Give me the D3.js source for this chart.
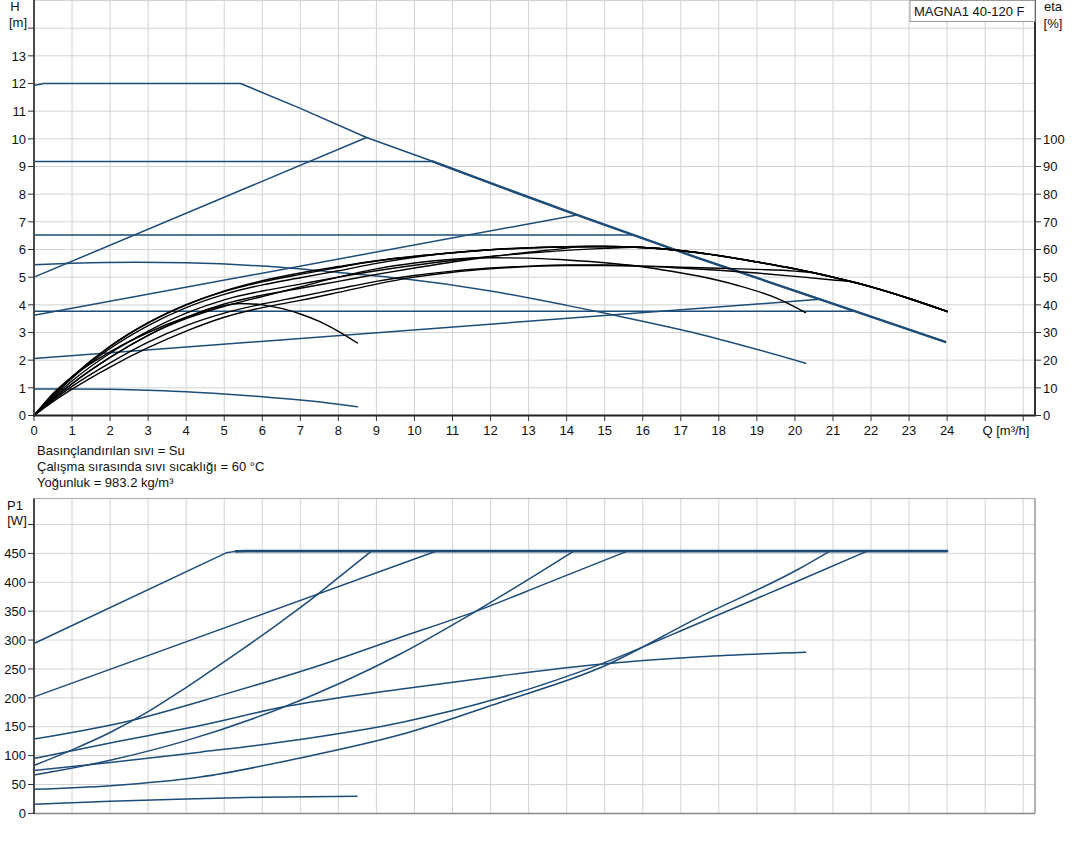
<!DOCTYPE html>
<html><head><meta charset="utf-8">
<script src="https://cdn.jsdelivr.net/npm/d3@7"></script>
<style>
html,body{margin:0;padding:0;background:#fff;}
svg{display:block;font-family:"Liberation Sans",Arial,sans-serif;}
</style></head>
<body><div id="chart"></div>
<script>
// ---------- DATA ----------
const qTicks = d3.range(0, 27);           // grid/ticks on flow axis
const qLabels = d3.range(0, 25);          // labelled flow ticks
const hTicks = d3.range(0, 15);
const hLabels = d3.range(0, 14);
const etaTicks = d3.range(0, 101, 10);
const pTicks = d3.range(0, 501, 50);
const pLabels = d3.range(0, 451, 50);
const title = "MAGNA1 40-120 F";
const notes = ["Basınçlandırılan sıvı = Su", "Çalışma sırasında sıvı sıcaklığı = 60 °C", "Yoğunluk = 983.2 kg/m³"];

// Head curves [Q m3/h, H m]
const hMax   = [[0,11.93],[0.25,12],[5.43,12],[7,11.1],[8.74,10.05],[10.49,9.18],[12.25,8.27],[14.27,7.25],[17.46,5.69],[20.66,4.2],[23.95,2.66]];
const hPPhigh= [[0,5.0],[8.74,10.05]];
const hCP92  = [[0,9.18],[10.49,9.18]];
const hPPmid = [[0,3.62],[14.27,7.25]];
const hCP65  = [[0,6.52],[15.75,6.52]];
const hCS    = [[0,5.45],[1,5.5],[2.7,5.54],[4,5.52],[6,5.4],[8,5.17],[9.62,4.96],[12,4.5],[14,3.98],[15.27,3.62],[17.5,2.94],[20.28,1.89]];
const hCP38  = [[0,3.77],[21.6,3.77]];
const hPPlow = [[0,2.06],[20.66,4.2]];
const hMin   = [[0,0.96],[1,0.96],[2,0.95],[3,0.91],[4,0.86],[5,0.78],[6,0.68],[7,0.56],[8,0.41],[8.5,0.32]];

// Efficiency curves [Q, eta %]
const etaMax   = [[0,0],[0.5,7.5],[1,14],[2,25],[3,33.5],[4,40],[5,45],[6,48.7],[7,51.5],[8,53.8],[9,55.9],[10,57.5],[11,58.8],[12,59.9],[13,60.6],[14,61],[15,61.1],[16,60.7],[17,59.6],[18,57.8],[19,55.5],[20,53],[21,50],[22,46.5],[23,42.3],[24,37.6]];
const etaPPhigh= [[0,0],[0.5,7.5],[1,14],[2,25],[3,33.5],[4,40],[5,44.8],[6,48.3],[7,51],[8,53.5],[8.74,55.4]];
const etaCP92  = [[0,0],[0.5,7],[1,13.5],[2,24.2],[3,32.5],[4,39],[5,43.8],[6,47.2],[7,49.8],[8,52.3],[9,55],[10,57.2],[10.49,58.1]];
const etaPPmid = [[0,0],[0.5,6],[1,11.5],[2,21],[3,29],[4,35.5],[5,40.3],[6,43.5],[7,46],[8,48.5],[9,51],[10,53.3],[11,55.5],[12,57.4],[13,59],[14,60.5],[14.27,61]];
const etaCP65  = [[0,0],[0.5,6.5],[1,12.5],[2,22.5],[3,30.5],[4,37],[5,41.8],[6,45],[7,47.5],[8,50],[9,52.3],[10,54.3],[11,56],[12,57.5],[13,58.7],[14,59.7],[15,60.4],[15.75,60.8]];
const etaCS    = [[0,0],[0.5,6],[1,11.5],[2,21],[3,29],[4,35],[5,39.5],[6,43],[7,46.5],[8,50],[9,53],[10,55.1],[11,56.5],[12,57],[13,56.9],[14,56.2],[15,55.2],[15.75,54.2],[16.5,52.7],[17.46,50.4],[18.5,47],[19.5,42.5],[20.28,37.2]];
const etaCP38  = [[0,0],[0.5,5.5],[1,10.5],[2,19],[3,26.5],[4,32.5],[5,37],[6,40.3],[7,43],[8,45.8],[9,48.5],[10,50.6],[11,52.2],[12,53.3],[13,54],[14,54.4],[15,54.4],[16,54],[17,53.3],[18,52.5],[19,51.5],[20,50.3],[21,49],[21.6,48.1]];
const etaPPlow = [[0,0],[0.5,5],[1,9.5],[2,17.5],[3,24.5],[4,30.5],[5,35.5],[6,39],[7,41.6],[8,44.5],[9,47.5],[10,50],[11,51.8],[12,53],[13,53.8],[14,54.2],[15,54.2],[16,54],[17,53.6],[18,53.2],[19,52.8],[20,52.2],[20.66,51.2]];
const etaMin   = [[0,0],[0.5,8],[1,14],[2,23],[3,30],[4,35.5],[5,39.7],[5.4,40.5],[6,40],[6.5,38.7],[7,36.7],[7.5,34],[8,30.4],[8.5,26.2]];

// Power curves [Q, P1 W]
const pMax   = [[0,294],[5.05,451],[5.3,453.5],[5.6,454],[24,454]];
const pCP92  = [[0,201.7],[10.58,454]];
const pCP65  = [[0,128.6],[2.5,160],[5,206],[7.5,256],[9.6,304],[11.61,349.7],[13.5,399],[15.6,454]];
const pPPhigh= [[0,83],[1,110],[2,140],[3,176],[3.84,211],[4.5,240],[5.5,285],[6.5,332],[7.26,369],[8,408],[8.87,454]];
const pCS    = [[0,94.9],[2,122],[4.37,152],[6.6,185],[9.62,215],[12.25,238],[14.88,258],[17.5,271],[20.28,279]];
const pPPmid = [[0,66.3],[2,92],[4,126],[6.6,185],[9.6,275],[11.61,349.7],[14.19,454]];
const pCP38  = [[0,74.3],[2,88],[4.37,106],[7,128],[9.62,157],[12.25,200],[14.88,258],[17.5,330],[20,400],[21.9,454]];
const pPPlow = [[0,41.7],[2,48],[4.37,63],[7,96],[9.62,136],[12.25,192],[14.88,252],[17.5,340],[20.1,423],[20.92,454]];
const pMin   = [[0,16],[2,21],[4,25],[6,28],[8.49,29.5]];

// ---------- DRAW ----------
const W = 1082, Hh = 852;
const blue = "#1d4c79", black = "#000";
const gridC = "#d3d3d3";
const svg = d3.select("#chart").append("svg").attr("width", W).attr("height", Hh);
svg.append("rect").attr("width", W).attr("height", Hh).attr("fill", "#fff");

const x = d3.scaleLinear().domain([0, 26.31]).range([34, 1035]);
const yH = d3.scaleLinear().domain([0, 15]).range([415.5, 0.5]);
const yEta = d3.scaleLinear().domain([0, 150]).range([415.5, 0.5]);
const yP = d3.scaleLinear().domain([0, 545]).range([813.4, 498.5]);

function grid(g, yScale, yVals, y0, y1) {
  g.selectAll(null).data(qTicks.slice(1)).enter().append("line")
    .attr("x1", d => x(d)).attr("x2", d => x(d)).attr("y1", y0).attr("y2", y1)
    .attr("stroke", gridC).attr("stroke-width", 1);
  g.selectAll(null).data(yVals).enter().append("line")
    .attr("x1", x(0)).attr("x2", x.range()[1]).attr("y1", d => yScale(d)).attr("y2", d => yScale(d))
    .attr("stroke", gridC).attr("stroke-width", 1);
}

// ----- top chart -----
const gTop = svg.append("g");
grid(gTop, yH, hTicks.slice(1).concat([15]), yH(15), yH(0));

const lineH = (curve) => d3.line().x(d => x(d[0])).y(d => yH(d[1])).curve(curve);
const lineE = d3.line().x(d => x(d[0])).y(d => yEta(d[1])).curve(d3.curveMonotoneX);
const lineP = (curve) => d3.line().x(d => x(d[0])).y(d => yP(d[1])).curve(curve);

function path(g, d, gen, color, w) {
  g.append("path").attr("d", gen(d)).attr("fill", "none").attr("stroke", color)
   .attr("stroke-width", w).attr("stroke-linejoin", "round").attr("stroke-linecap", "round");
}
const lin = d3.curveLinear, mono = d3.curveMonotoneX;

// blue head curves
[hPPhigh, hCP92, hPPmid, hCP65, hCP38, hPPlow].forEach(c => path(gTop, c, lineH(lin), blue, 1.5));
path(gTop, hCS, lineH(mono), blue, 1.5);
path(gTop, hMin, lineH(mono), blue, 1.5);
path(gTop, hMax, lineH(lin), blue, 1.5);
path(gTop, hMax.filter(d => d[0] >= 10.49), lineH(lin), blue, 2.4);

// black efficiency curves (curves ending on max curve continue along its efficiency)
const follow = (arr) => arr.concat(etaMax.filter(d => d[0] > arr[arr.length-1][0] + 0.2));
[etaMin, etaCS].forEach(c => path(gTop, c, lineE, black, 1.4));
[etaPPlow, etaCP38, etaPPmid, etaCP65, etaCP92, etaPPhigh].forEach(c => path(gTop, follow(c), lineE, black, 1.4));
path(gTop, etaMax, lineE, black, 1.6);

// axes top
gTop.append("line").attr("x1", 34).attr("x2", 34).attr("y1", 0).attr("y2", 415.5).attr("stroke", "#4a4a4a").attr("stroke-width", 2);
gTop.append("line").attr("x1", 33).attr("x2", 1036).attr("y1", 415.5).attr("y2", 415.5).attr("stroke", "#222").attr("stroke-width", 2);
gTop.append("line").attr("x1", 1035).attr("x2", 1035).attr("y1", 0).attr("y2", 416).attr("stroke", "#333").attr("stroke-width", 2);

gTop.selectAll(null).data(hTicks).enter().append("line")
  .attr("x1", 28).attr("x2", 34).attr("y1", d => yH(d)).attr("y2", d => yH(d)).attr("stroke", "#333");
gTop.selectAll(null).data(hLabels).enter().append("text")
  .attr("x", 26).attr("y", d => yH(d)).attr("dy", "0.36em").attr("text-anchor", "end")
  .attr("font-size", 13).attr("fill", "#111").text(d => d);
gTop.selectAll(null).data(qTicks).enter().append("line")
  .attr("x1", d => x(d)).attr("x2", d => x(d)).attr("y1", 415.5).attr("y2", 421).attr("stroke", "#333");
gTop.selectAll(null).data(qLabels).enter().append("text")
  .attr("x", d => x(d)).attr("y", 435).attr("text-anchor", "middle")
  .attr("font-size", 13).attr("fill", "#111").text(d => d);
gTop.append("text").attr("x", 1006).attr("y", 435).attr("text-anchor", "middle").attr("font-size", 13).attr("fill", "#111").text("Q [m³/h]");
gTop.selectAll(null).data(etaTicks).enter().append("line")
  .attr("x1", 1035).attr("x2", 1041).attr("y1", d => yEta(d)).attr("y2", d => yEta(d)).attr("stroke", "#333");
gTop.selectAll(null).data(etaTicks).enter().append("text")
  .attr("x", 1043).attr("y", d => yEta(d)).attr("dy", "0.36em").attr("text-anchor", "start")
  .attr("font-size", 13).attr("fill", "#111").text(d => d);
gTop.append("text").attr("x", 15).attr("y", 11).attr("text-anchor", "middle").attr("font-size", 13).attr("fill", "#111").text("H");
gTop.append("text").attr("x", 18).attr("y", 27).attr("text-anchor", "middle").attr("font-size", 13).attr("fill", "#111").text("[m]");
gTop.append("text").attr("x", 1053).attr("y", 11).attr("text-anchor", "middle").attr("font-size", 13).attr("fill", "#111").text("eta");
gTop.append("text").attr("x", 1053).attr("y", 28).attr("text-anchor", "middle").attr("font-size", 13).attr("fill", "#111").text("[%]");

// legend box
gTop.append("rect").attr("x", 910).attr("y", 0.5).attr("width", 125).attr("height", 21).attr("fill", "#fff").attr("stroke", "#9a9a9a");
gTop.append("text").attr("x", 914).attr("y", 16).attr("font-size", 13).attr("fill", "#111").text(title);

// notes
svg.selectAll(null).data(notes).enter().append("text")
  .attr("x", 37).attr("y", (d, i) => 455 + i * 16).attr("font-size", 13).attr("fill", "#111").text(d => d);

// ----- bottom chart -----
const gBot = svg.append("g");
grid(gBot, yP, pTicks.slice(1), 498.5, 813.4);
gBot.append("line").attr("x1", 34).attr("x2", 1035).attr("y1", 498.5).attr("y2", 498.5).attr("stroke", "#aaa");
gBot.append("line").attr("x1", 1035).attr("x2", 1035).attr("y1", 498.5).attr("y2", 813.4).attr("stroke", "#999").attr("stroke-width", 1.5);

[pCP92].forEach(c => path(gBot, c, lineP(lin), blue, 1.5));
[pCP65, pPPhigh, pCS, pPPmid, pCP38, pPPlow, pMin].forEach(c => path(gBot, c, lineP(mono), blue, 1.5));
path(gBot, pMax, lineP(lin), blue, 1.5);
path(gBot, pMax.filter(d => d[0] >= 5.3), lineP(lin), blue, 2.6);

gBot.append("line").attr("x1", 34).attr("x2", 1035).attr("y1", 813.4).attr("y2", 813.4).attr("stroke", "#888").attr("stroke-width", 1.5);
gBot.append("line").attr("x1", 34).attr("x2", 34).attr("y1", 498.5).attr("y2", 814).attr("stroke", "#4a4a4a").attr("stroke-width", 2);
gBot.selectAll(null).data(pTicks).enter().append("line")
  .attr("x1", 28).attr("x2", 34).attr("y1", d => yP(d)).attr("y2", d => yP(d)).attr("stroke", "#333");
gBot.selectAll(null).data(pLabels).enter().append("text")
  .attr("x", 26).attr("y", d => yP(d)).attr("dy", "0.36em").attr("text-anchor", "end")
  .attr("font-size", 13).attr("fill", "#111").text(d => d);
gBot.append("text").attr("x", 15).attr("y", 510).attr("text-anchor", "middle").attr("font-size", 13).attr("fill", "#111").text("P1");
gBot.append("text").attr("x", 17).attr("y", 525).attr("text-anchor", "middle").attr("font-size", 13).attr("fill", "#111").text("[W]");
</script></body></html>
